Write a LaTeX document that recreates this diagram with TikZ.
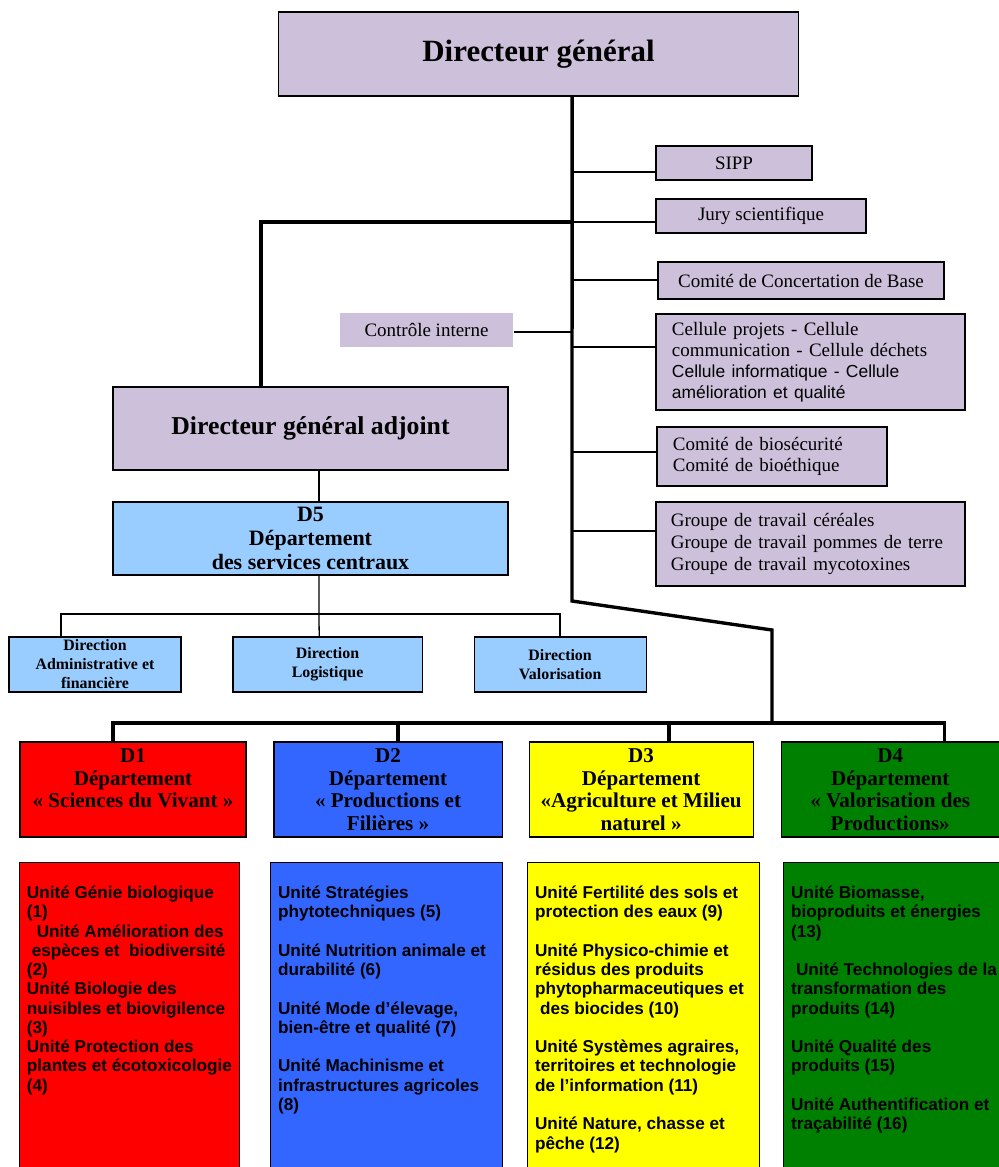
\documentclass[tikz,border=0pt]{standalone}
\usepackage{fontspec}
\setmainfont{Liberation Serif}
\setsansfont{Liberation Sans}
\usepackage{tikz}
\usetikzlibrary{positioning}

\definecolor{lilas}{HTML}{CCC0DA}
\definecolor{bleuclair}{HTML}{99CCFF}
\definecolor{rouge}{HTML}{FF0000}
\definecolor{bleu}{HTML}{3366FF}
\definecolor{jaune}{HTML}{FFFF00}
\definecolor{vert}{HTML}{008000}

\begin{document}
\begin{tikzpicture}[x=0.025cm, y=-0.025cm, semithick, inner sep=2pt,
  lilasbox/.style={draw, line width=0.8pt, fill=lilas, font=\fontsize{13.5}{15}\selectfont},
  direction/.style={draw, line width=0.8pt, fill=bleuclair, align=center, inner sep=0pt,
    minimum height=1.375cm, font=\bfseries\fontsize{11.3}{13.5}\selectfont},
  dept/.style={draw, line width=0.8pt, align=center, inner sep=0pt,
    minimum height=2.375cm, font=\bfseries\fontsize{15}{16.1}\selectfont},
  unite/.style={draw, line width=0.6pt, minimum height=7.7cm, inner sep=0pt},
  unitetext/.style={anchor=north west, inner sep=0pt, align=left,
    font=\sffamily\bfseries\fontsize{12.2}{13.7}\selectfont},
  tronc/.style={line width=2.4pt},
  lien/.style={line width=0.9pt}]
\useasboundingbox (0,0) rectangle (999,1167);
%
% direction
\node (dg) [lilasbox, minimum width=12.975cm, minimum height=2.1cm,
  font=\bfseries\fontsize{22}{26}\selectfont] at (538.5,54) {Directeur général};
\node (dga) [lilasbox, minimum width=9.875cm, minimum height=2.075cm,
  font=\bfseries\fontsize{18.3}{21}\selectfont] at (310.5,428.5) {Directeur général adjoint};
%
% organes rattachés
\node (sipp) [lilasbox, minimum width=3.9cm, minimum height=0.85cm] at (734,163) {SIPP};
\node (jury) [lilasbox, minimum width=5.25cm, minimum height=0.85cm] at (761,216) {Jury scientifique};
\node (comite) [lilasbox, minimum width=7.15cm, minimum height=0.925cm] at (801,280.5) {Comité de Concertation de Base};
\node (ctrl) [lilasbox, draw=none, minimum width=4.325cm, minimum height=0.85cm] at (426.5,330) {Contrôle interne};
\node (cell) [lilasbox, minimum height=2.4cm, text width=6.925cm, inner xsep=0.4cm, align=left,
  font=\fontsize{13.5}{14.8}\selectfont] at (810.5,362)
  {Cellule projets - Cellule\\communication - Cellule déchets\\
   {\sffamily\fontsize{12.4}{14.8}\selectfont Cellule informatique - Cellule}\\
   {\sffamily\fontsize{12.4}{14.8}\selectfont amélioration et qualité}};
\node (bio) [lilasbox, minimum height=1.475cm, text width=4.95cm, inner xsep=0.4cm, align=left,
  font=\fontsize{13.5}{14.9}\selectfont] at (772,456.5)
  {Comité de biosécurité\\Comité de bioéthique};
\node (grp) [lilasbox, minimum height=2.1cm, text width=6.975cm, inner xsep=0.375cm, align=left,
  font=\fontsize{13.5}{15.6}\selectfont] at (810.5,544)
  {Groupe de travail céréales\\Groupe de travail pommes de terre\\Groupe de travail mycotoxines};
%
% D5 et directions
\node (d5) [direction, minimum width=9.875cm, minimum height=1.825cm,
  font=\bfseries\fontsize{15.6}{17}\selectfont] at (310.5,538.5)
  {D5\\Département\\des services centraux};
\node (dadm) [direction, minimum width=4.3cm] at (95,664.5) {Direction\\Administrative et\\financière};
\node (dlog) [direction, minimum width=4.725cm, right of=dadm, node distance=5.8125cm] {Direction\\Logistique};
\node (dval) [direction, minimum width=4.3cm, right of=dlog, node distance=5.8125cm] {Direction\\Valorisation};
%
% départements
\node (d1) [dept, fill=rouge, minimum width=5.65cm] at (133,789.5)
  {D1\\Département\\« Sciences du Vivant »\\~};
\node (d2) [dept, fill=bleu, minimum width=5.7cm, right of=d1, node distance=6.375cm]
  {D2\\Département\\« Productions et\\Filières »};
\node (d3) [dept, fill=jaune, minimum width=5.6cm, right of=d2, node distance=6.325cm]
  {D3\\Département\\«Agriculture et Milieu\\naturel »};
\node (d4) [dept, fill=vert, minimum width=5.45cm, right of=d3, node distance=6.225cm]
  {D4\\Département\\« Valorisation des\\Productions»};
%
% unités
\node (u1) [unite, fill=rouge, minimum width=5.5cm] at (129,1016) {};
\node (u2) [unite, fill=bleu, minimum width=5.8cm, right of=u1, node distance=6.425cm] {};
\node (u3) [unite, fill=jaune, minimum width=5.8cm, right of=u2, node distance=6.425cm] {};
\node (u4) [unite, fill=vert, minimum width=5.45cm, right of=u3, node distance=6.225cm] {};
%
\node (t1) [unitetext] at ([xshift=0.2cm, yshift=-0.6cm]u1.north west)
  {Unité Génie biologique\\(1)\\
   \hspace*{7pt}Unité Amélioration des\\
   \hspace*{3.5pt}espèces et\ \ biodiversité\\(2)\\
   Unité Biologie des\\nuisibles et biovigilence\\(3)\\
   Unité Protection des\\plantes et écotoxicologie\\(4)};
\node (t2) [unitetext] at ([xshift=0.2cm, yshift=-0.6cm]u2.north west)
  {Unité Stratégies\\phytotechniques (5)\\[13.7pt]
   Unité Nutrition animale et\\durabilité (6)\\[13.7pt]
   Unité Mode d’élevage,\\bien-être et qualité (7)\\[13.7pt]
   Unité Machinisme et\\infrastructures agricoles\\(8)};
\node (t3) [unitetext] at ([xshift=0.2cm, yshift=-0.6cm]u3.north west)
  {Unité Fertilité des sols et\\protection des eaux (9)\\[13.7pt]
   Unité Physico-chimie et\\résidus des produits\\phytopharmaceutiques et\\
   \hspace*{3.5pt}des biocides (10)\\[13.7pt]
   Unité Systèmes agraires,\\territoires et technologie\\de l’information (11)\\[13.7pt]
   Unité Nature, chasse et\\pêche (12)};
\node (t4) [unitetext] at ([xshift=0.2cm, yshift=-0.6cm]u4.north west)
  {Unité Biomasse,\\bioproduits et énergies\\(13)\\[13.7pt]
   \hspace*{3.5pt}Unité Technologies de la\\transformation des\\produits (14)\\[13.7pt]
   Unité Qualité des\\produits (15)\\[13.7pt]
   Unité Authentification et\\traçabilité (16)};
%
% tronc principal
\coordinate (t-coude) at (572,601);
\coordinate (t-bas) at (772,630);
\coordinate (barre) at (772,723);
\draw[tronc] ([xshift=0.84cm]dg.south) -- (t-coude) -- (t-bas) -- (barre);
%
\coordinate (j-sipp) at (572,172);
\coordinate (j-jury) at (572,222);
\coordinate (j-comite) at (572,280);
\coordinate (j-ctrl) at (572,332);
\coordinate (j-cell) at (572,347);
\coordinate (j-bio) at (572,452);
\coordinate (j-grp) at (572,531);
\foreach \n in {sipp,jury,comite,cell,bio,grp}
  \draw[lien] (j-\n) -- (j-\n -| \n.west);
\draw[lien] (j-ctrl) -- (j-ctrl -| ctrl.east);
\draw[tronc] (j-jury) -| ([xshift=-1.24cm]dga.north);
%
\draw[lien] ([xshift=0.21cm]dga.south) -- ([xshift=0.21cm]d5.north);
\draw[lien] ([xshift=0.21cm]d5.south) -- ([xshift=-0.21cm]dlog.north);
\coordinate (b5) at (319,614);
\draw[lien] ([xshift=-0.85cm]dadm.north) |- (b5) -| (dval.north);
%
\coordinate (s1) at ([xshift=-0.5cm]d1.north);
\coordinate (s2) at ([xshift=0.25cm]d2.north);
\coordinate (s3) at ([xshift=0.7cm]d3.north);
\coordinate (s4) at ([xshift=1.35cm]d4.north);
\draw[tronc] (s1) |- (barre) -| (s4);
\draw[tronc] (s2) -- (s2 |- barre);
\draw[tronc] (s3) -- (s3 |- barre);
\end{tikzpicture}
\end{document}
